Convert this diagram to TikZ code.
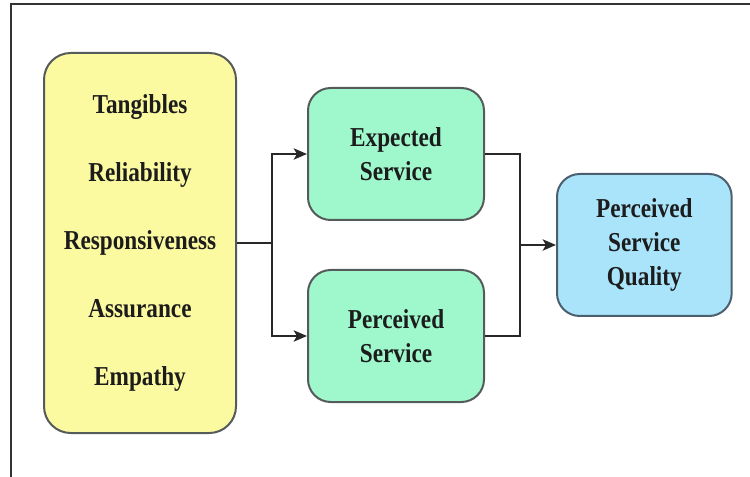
\documentclass[tikz,border=0pt]{standalone}
\usepackage{fontspec}
\setmainfont{Liberation Serif}[FakeStretch=0.85]
\usetikzlibrary{arrows.meta, positioning, calc}
\definecolor{cDimFill}{RGB}{252, 250, 160}
\definecolor{cSvcFill}{RGB}{158, 248, 204}
\definecolor{cQualFill}{RGB}{170, 228, 250}
\definecolor{cBoxDraw}{RGB}{85, 90, 90}
\definecolor{cQualDraw}{RGB}{75, 95, 110}
\definecolor{textColor}{RGB}{28, 28, 28}
\definecolor{lineColor}{RGB}{40, 40, 40}
\tikzset{
    font=\bfseries,
    % --- base block ---
    baseBlock/.style={
        rectangle, line width=1.5pt, draw=cBoxDraw,
        align=center, text=textColor
    },
    % left column: SERVQUAL dimensions
    styleDim/.style={
        baseBlock, fill=cDimFill, rounded corners=20pt,
        minimum width=144pt, minimum height=285pt,
        font=\bfseries\fontsize{20.5}{51}\selectfont
    },
    % middle column: services
    styleSvc/.style={
        baseBlock, fill=cSvcFill, rounded corners=17pt,
        minimum width=132pt, minimum height=99pt,
        font=\bfseries\fontsize{20.5}{26}\selectfont
    },
    % right column: quality
    styleQual/.style={
        baseBlock, draw=cQualDraw, fill=cQualFill, rounded corners=17pt,
        minimum width=131pt, minimum height=106.5pt,
        font=\bfseries\fontsize{20.5}{25.5}\selectfont
    },
    % --- connectors ---
    conn/.style={
        draw=lineColor, line width=1.5pt
    },
    connArrow/.style={
        conn, -{Stealth[length=10pt, width=8.5pt, inset=2.5pt]}
    },
    frameLine/.style={
        draw=black!80, line width=1.5pt
    }
}
\begin{document}
\begin{tikzpicture}[x=0.75pt, y=-0.75pt]

	\useasboundingbox (0,0) rectangle (750,477);

	% =========================================================
	% frame
	% =========================================================
	\draw [frameLine] (11,477) -- (11,4.5) -- (750,4.5);

	% =========================================================
	% blocks
	% =========================================================
	\node [styleDim] (dims) at (140,243)
		{Tangibles\\Reliability\\Responsiveness\\Assurance\\Empathy};

	\node [styleSvc, right=52.5pt of dims, yshift=66.75pt] (expected) {Expected\\Service};
	\node [styleSvc, below=36pt of expected] (perceived) {Perceived\\Service};

	\coordinate (joinL) at ($(dims.east)+(35,0)$);
	\coordinate (joinR) at ($(expected.east)!0.5!(perceived.east)+(35,0)$);

	\node [styleQual, right=27pt of joinR] (quality) {Perceived\\Service\\Quality};

	% =========================================================
	% connectors
	% =========================================================
	\draw [conn] (dims.east) -- (joinL);
	\foreach \n in {expected, perceived} {
			\draw [connArrow] (joinL) |- (\n.west);
			\draw [conn] (\n.east) -| (joinR);
		}
	\draw [connArrow] (joinR) -- (quality.west);

\end{tikzpicture}
\end{document}
